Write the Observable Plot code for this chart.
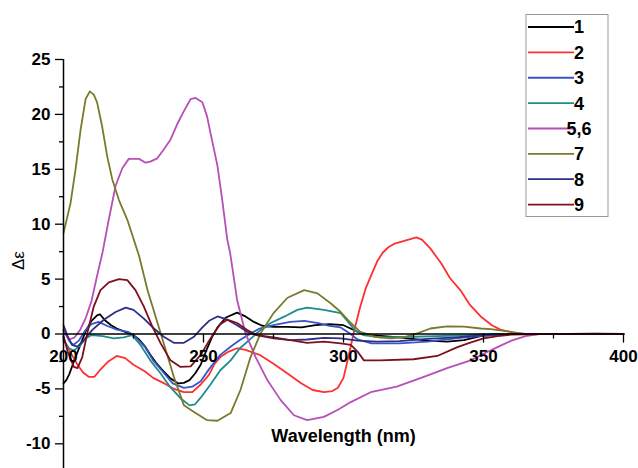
<!DOCTYPE html>
<html><head><meta charset="utf-8">
<script src="https://cdn.jsdelivr.net/npm/d3@7"></script>
<script src="https://cdn.jsdelivr.net/npm/@observablehq/plot@0.6"></script>
<style>html,body{margin:0;padding:0;background:#fff}svg{display:block}</style>
</head><body><div id="chart"></div>
<script>
const seriesNames = ["1","2","3","4","5,6","7","8","9"];
const seriesColors = ["#000000","#ff3030","#3a55c8","#1f8c8c","#b64fb6","#7a7a2c","#2e2e85","#7f0f1f"];
const xTickValues = [200,250,300,350,400];
const xMinorTicks = [225,275,325,375];
const yTickValues = [-10,-5,0,5,10,15,20,25];
const yMinorTicks = [-7.5,-2.5,2.5,7.5,12.5,17.5,22.5];

const nm1 = [200,201,202,203,204,206,208,210,212,213,215,217,219,222,225,227,229,231,233,235,238,241,243,245,247,249,251,253,255,258,262,265,268,271,275,280,285,290,295,300,305,310,320,330,337,343,349,355,360,370,380,390,400];
const de1 = [-4.5,-4.2,-3.7,-3.0,-2.3,-1.0,0.3,1.2,1.7,1.8,1.2,0.8,0.5,0.2,-0.1,-0.5,-1.1,-1.9,-2.6,-3.2,-4.0,-4.5,-4.45,-4.2,-3.6,-2.8,-1.5,-0.3,0.6,1.5,1.95,1.6,1.1,0.75,0.65,0.65,0.6,0.8,0.9,0.8,0.2,-0.1,-0.3,-0.6,-0.7,-0.55,-0.2,-0.05,0,0.02,0,0.03,0];

const nm2 = [200,201,203,205,207,209,211,213,216,219,222,225,229,232,236,239,243,246,249,252,254,256,259,262,265,270,275,280,285,289,293,296,298,300,302,304,306,308,310,312,314,316,318,322,326,328,331,335,338,342,345,349,353,356,361,365,375,385,400];
const de2 = [-0.3,-1.0,-1.9,-2.8,-3.5,-3.9,-3.9,-3.3,-2.5,-2.0,-2.2,-2.8,-3.4,-4.0,-4.5,-4.95,-5.3,-5.3,-4.6,-3.7,-2.7,-2.1,-1.6,-1.3,-1.45,-1.9,-2.7,-3.6,-4.5,-5.1,-5.3,-5.2,-4.9,-4.0,-1.8,0.5,2.5,4.2,5.4,6.6,7.4,7.9,8.2,8.5,8.8,8.6,7.8,6.4,5.1,3.9,2.7,1.6,0.8,0.4,0.1,0,0.02,0,0];

const nm3 = [200,202,203.5,205.5,208,210,212.5,215.5,219,223,225,229,232,236,239,243,246,249,252,256,260,263,267,270,275,281,286,291,295,299,302,305,310,320,330,340,350,360,370,385,400];
const de3 = [0.4,-0.6,-1.0,-0.6,0.4,0.9,1.1,0.75,0.4,0.2,-0.1,-1.15,-2.4,-3.6,-4.5,-4.9,-4.8,-4.3,-3.2,-1.9,-1.1,-0.55,0.06,0.5,0.8,1.1,1.2,1.0,0.75,0.6,0.1,-0.5,-0.85,-0.85,-0.7,-0.4,-0.15,0,0,0.02,0];

const nm4 = [200,202,203.7,205.5,208,210,214,218,221.5,224.5,227.5,231,234.7,238,242,245,247,249,252.5,256,259.7,263,267,270.4,274,279,283.5,287,293,299,301,304,307,313,325,340,355,370,385,400];
const de4 = [-0.55,-1.3,-1.5,-1.15,-0.4,-0.1,-0.2,-0.4,-0.3,-0.1,-1.0,-2.4,-3.6,-4.8,-5.9,-6.5,-6.4,-5.8,-4.6,-3.3,-2.4,-1.3,-0.4,0.37,1.0,1.6,2.2,2.4,2.2,1.9,1.3,0.35,-0.1,-0.3,-0.25,-0.15,0,0,0.02,0];

const nm56 = [200,202,204,206,208,210,212,214,216,218.6,221,223.3,227,229.3,231,233.5,235.8,238.2,240.6,243,245.4,247.2,249.6,251.3,252.5,255,256.7,258.5,259.5,262,265,268.6,272.8,277.5,282.3,287,293,298,302.6,309.7,319,328.7,337,345.4,350,355,360,365,370,380,390,400];
const de56 = [0.3,-0.5,-0.3,0.4,1.5,3.0,5.3,7.5,10.2,13.5,15.1,15.95,15.95,15.6,15.7,16.0,16.8,17.7,19.1,20.3,21.4,21.5,21.1,19.8,18.3,15.3,12.2,8.6,7.4,3.1,0.06,-2.1,-4.2,-6.0,-7.4,-7.85,-7.55,-6.9,-6.2,-5.3,-4.8,-3.9,-3.1,-2.4,-1.8,-1.2,-0.6,-0.2,0,0.02,0,0];

const nm7 = [200,202.5,204.3,206.1,207.9,209.4,210.8,212,213.8,215.6,217.4,219.8,222.8,225.1,227,230,234.7,239.4,243,246.6,251.3,255,259.7,263.2,266.8,270.4,275,280,286,290.7,295.4,299,302.6,306,311,317,321.5,326.4,331,337,343,349,352.6,359.7,364.4,375,390,400];
const de7 = [9.2,11.9,15.0,18.6,21.4,22.1,21.8,21.1,18.9,16.2,14.1,12.2,10.4,8.6,7.1,4.0,0.06,-3.9,-6.5,-7.1,-7.85,-7.9,-7.2,-5.1,-2.1,0.06,1.9,3.3,4.0,3.7,2.8,2.0,1.0,0.2,-0.25,-0.4,-0.3,0.06,0.5,0.7,0.67,0.5,0.45,0.2,0.02,0,0.02,0];

const nm8 = [200,201.3,203,205,207.3,210.3,214.4,218.6,222.2,225,228.7,232.3,235.8,239.4,243,246.6,249.6,252,255,258.5,262,265.6,269,275,281,287,293,299,305,312,320,330,340,350,360,375,390,400];
const de8 = [0.8,-0.1,-1.0,-1.15,-0.55,0.37,1.3,2.0,2.4,2.2,1.4,0.5,-0.25,-0.8,-0.8,-0.25,0.6,1.2,1.6,1.3,0.8,0.2,-0.1,-0.4,-0.55,-0.5,-0.35,-0.4,-0.6,-0.7,-0.65,-0.45,-0.3,-0.1,0,0.02,0,0];

const nm9 = [200,201.5,203.7,205,206.7,208.5,210.8,213.2,216.2,219.8,222.8,225.7,228.7,231.7,234.7,238.2,241.8,245.4,249,252.5,256,258.5,262,265.6,269,275,281,287,293,299,302.6,305,307.3,313,325,333.5,340.7,345,350,355,360,370,385,400];
const de9 = [-0.2,-1.6,-3.0,-3.1,-2.1,0.06,2.5,4.0,4.7,5.0,4.9,4.0,2.5,0.7,-0.85,-2.4,-3.0,-2.95,-1.9,-0.4,0.9,1.3,1.0,0.37,-0.1,-0.3,-0.55,-0.8,-0.7,-0.85,-1.0,-1.6,-2.4,-2.4,-2.3,-2.0,-1.2,-0.8,-0.4,-0.2,-0.05,0,0.02,0];

const wavelengths = [nm1,nm2,nm3,nm4,nm56,nm7,nm8,nm9];
const deltaEps = [de1,de2,de3,de4,de56,de7,de8,de9];

const rows = [];
wavelengths.forEach((xs, i) => xs.forEach((x, j) => rows.push({series: seriesNames[i], nm: x, de: deltaEps[i][j]})));

const font = "'Liberation Sans', Arial, Helvetica, sans-serif";
const tickShape = {draw(ctx, l) { ctx.moveTo(0, 0); ctx.lineTo(0, -l); }};

const plot = Plot.plot({
  width: 638, height: 468,
  marginLeft: 63, marginRight: 15, marginTop: 59, marginBottom: 0,
  style: {fontFamily: font, background: "#fff", overflow: "visible", color: "#000"},
  x: {domain: [200, 400], axis: null},
  y: {domain: [-12.25, 25], axis: null},
  color: {domain: seriesNames, range: seriesColors},
  marks: [
    Plot.line(rows, {x: "nm", y: "de", z: "series", stroke: "series", strokeWidth: 1.8}),
    Plot.ruleY([0], {stroke: "#000", strokeWidth: 1.3}),
    Plot.ruleX([200], {stroke: "#000", strokeWidth: 1.5}),
    Plot.vector(xTickValues, {x: d => d, y: 0, length: 8, rotate: 180, anchor: "start", shape: tickShape, stroke: "#000", strokeWidth: 1.3}),
    Plot.vector(xMinorTicks, {x: d => d, y: 0, length: 4, rotate: 180, anchor: "start", shape: tickShape, stroke: "#000", strokeWidth: 1.3}),
    Plot.text(xTickValues, {x: d => d, y: 0, dy: 23, text: d => String(d), fontSize: 17, fontWeight: "bold", fill: "#000"}),
    Plot.axisY({ticks: yTickValues, tickSize: 8, tickPadding: 5, fontSize: 17, fontWeight: "bold", label: null, stroke: "#000", strokeWidth: 1.3, tickFormat: d => String(d).replace("\u2212", "-")}),
    Plot.axisY({ticks: yMinorTicks, tickSize: 4, tickFormat: () => "", label: null, strokeWidth: 1.3}),
    Plot.text(["Wavelength (nm)"], {frameAnchor: "bottom", dy: -27, fontSize: 18, fontWeight: "bold", fill: "#000"}),
    Plot.text(["\u0394\u03b5"], {frameAnchor: "left", dx: -45, dy: 6, rotate: -90, fontSize: 17, fill: "#000"})
  ]
});
document.getElementById("chart").appendChild(plot);

// legend
const svg = d3.select(plot);
const lg = svg.append("g").attr("font-family", font);
lg.append("rect").attr("x", 526).attr("y", 14.5).attr("width", 82).attr("height", 202)
  .attr("fill", "#fff").attr("stroke", "#999").attr("stroke-width", 1);
seriesNames.forEach((name, i) => {
  const cy = 27 + i * 25.37;
  lg.append("line").attr("x1", 528).attr("x2", 574).attr("y1", cy).attr("y2", cy)
    .attr("stroke", seriesColors[i]).attr("stroke-width", 1.8);
  lg.append("text").attr("x", 579).attr("y", cy).attr("dy", "0.36em")
    .attr("font-size", 18).attr("font-weight", "bold").attr("fill", "#000").text(name);
});
</script></body></html>
